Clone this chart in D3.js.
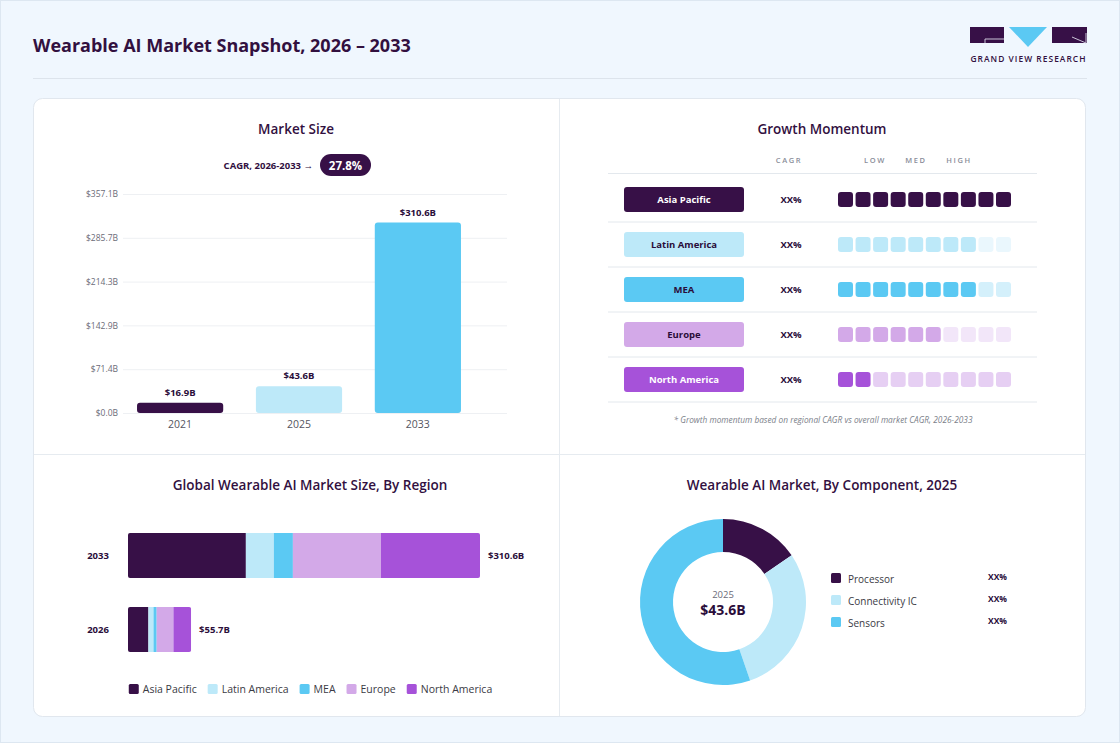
<!DOCTYPE html>
<html>
<head>
<meta charset="utf-8">
<script src="https://cdn.jsdelivr.net/npm/d3@7"></script>
<style>
  html, body { margin: 0; padding: 0; background: #f0f7fe; }
  svg { display: block; font-family: "Open Sans", "Noto Sans", sans-serif; }
</style>
</head>
<body>
<div id="chart"></div>
<script>
// ---- data ----
const sizeYears = ["2021", "2025", "2033"];
const sizeValues = [16.9, 43.6, 310.6];
const sizeColors = ["#371047", "#bde9f9", "#5bc9f3"];
const sizeTicks = [0, 71.4, 142.9, 214.3, 285.7, 357.1];
const cagrLabel = "27.8%";

const regions = ["Asia Pacific", "Latin America", "MEA", "Europe", "North America"];
const regionColors = ["#371047", "#bde9f9", "#5bc9f3", "#d3a9e8", "#a652d9"];
const regionLight = ["#371047", "#eaf7fd", "#d4f0fb", "#f2e6f9", "#e6cff3"];
const regionText = ["#ffffff", "#2a0d3a", "#2a0d3a", "#2a0d3a", "#ffffff"];
const momentumLevels = [10, 8, 8, 6, 2];
const regionCagr = ["XX%", "XX%", "XX%", "XX%", "XX%"];

const stackYears = ["2033", "2026"];
const stack2033 = [104.0, 24.7, 16.8, 77.7, 87.4];
const stack2026 = [18.0, 4.5, 2.8, 14.8, 15.6];
const stackTotals = ["$310.6B", "$55.7B"];

const components = ["Processor", "Connectivity IC", "Sensors"];
const componentShare = [15.5, 29.2, 55.3];
const componentColors = ["#371047", "#bde9f9", "#5bc9f3"];
const componentLabels = ["XX%", "XX%", "XX%"];

const W = 1120, H = 743;
const dark = "#32103f";

const svg = d3.select("#chart").append("svg")
    .attr("width", W)
    .attr("height", H)
    .attr("viewBox", `0 0 ${W} ${H}`);

// page frame
svg.append("rect")
    .attr("x", 0.5).attr("y", 0.5)
    .attr("width", W - 1).attr("height", H - 1)
    .attr("fill", "#f0f7fe")
    .attr("stroke", "#dde7f1");

// ---- header ----
svg.append("text")
    .attr("x", 33).attr("y", 52)
    .attr("font-size", 18)
    .attr("font-weight", 700)
    .attr("fill", dark)
    .text("Wearable AI Market Snapshot, 2026 – 2033");

svg.append("line")
    .attr("x1", 33).attr("x2", 1087)
    .attr("y1", 78.5).attr("y2", 78.5)
    .attr("stroke", "#dde4ec");

// logo
const logo = svg.append("g");
logo.append("rect").attr("x", 970).attr("y", 27).attr("width", 34).attr("height", 16).attr("fill", "#371047");
logo.append("path").attr("d", "M985,43 V39 H1004").attr("fill", "none").attr("stroke", "#c9c2d6").attr("stroke-width", 1);
logo.append("path").attr("d", "M1009,27 H1047 L1028,47 Z").attr("fill", "#5bc9f3");
logo.append("rect").attr("x", 1052).attr("y", 27).attr("width", 35).attr("height", 16).attr("fill", "#371047");
logo.append("path").attr("d", "M1072,37 L1086,43 M1086,33 V43").attr("fill", "none").attr("stroke", "#c9c2d6").attr("stroke-width", 1);
logo.append("text")
    .attr("x", 1028.5).attr("y", 62)
    .attr("text-anchor", "middle")
    .attr("font-size", 8.4)
    .attr("font-weight", 600)
    .attr("letter-spacing", 1.05)
    .attr("fill", dark)
    .text("GRAND VIEW RESEARCH");

// ---- card ----
svg.append("rect")
    .attr("x", 33.5).attr("y", 98.5)
    .attr("width", 1052).attr("height", 618)
    .attr("rx", 9)
    .attr("fill", "#ffffff")
    .attr("stroke", "#e1e7ee");
svg.append("line").attr("x1", 559.5).attr("x2", 559.5).attr("y1", 99).attr("y2", 716).attr("stroke", "#e6ebf0");
svg.append("line").attr("x1", 34).attr("x2", 1085).attr("y1", 454.5).attr("y2", 454.5).attr("stroke", "#e6ebf0");

function panelTitle(x, y, label) {
    svg.append("text")
        .attr("x", x).attr("y", y)
        .attr("text-anchor", "middle")
        .attr("font-size", 13.5)
        .attr("font-weight", 600)
        .attr("fill", dark)
        .text(label);
}

// ---- market size ----
panelTitle(296, 134, "Market Size");

svg.append("text")
    .attr("x", 313).attr("y", 169)
    .attr("text-anchor", "end")
    .attr("font-size", 9.5)
    .attr("font-weight", 700)
    .attr("fill", dark)
    .text("CAGR, 2026-2033 →");
svg.append("rect")
    .attr("x", 320).attr("y", 154)
    .attr("width", 51).attr("height", 22)
    .attr("rx", 11)
    .attr("fill", "#371047");
svg.append("text")
    .attr("x", 345.5).attr("y", 169.5)
    .attr("text-anchor", "middle")
    .attr("font-size", 11.5)
    .attr("font-weight", 700)
    .attr("fill", "#ffffff")
    .text(cagrLabel);

const xSize = d3.scaleBand()
    .domain(sizeYears)
    .range([123, 475])
    .paddingInner(0.275)
    .paddingOuter(0.118);
const ySize = d3.scaleLinear()
    .domain([0, sizeTicks[sizeTicks.length - 1]])
    .range([413, 194]);

const sizeAxis = svg.append("g")
    .attr("transform", "translate(123,0)")
    .call(d3.axisLeft(ySize)
        .tickValues(sizeTicks)
        .tickSize(-384)
        .tickPadding(5)
        .tickFormat(d => `$${d.toFixed(1)}B`));
sizeAxis.select(".domain").remove();
sizeAxis.selectAll(".tick line").attr("stroke", "#eef0f3");
sizeAxis.selectAll(".tick text")
    .attr("font-family", "Open Sans, sans-serif")
    .attr("font-size", 8.5)
    .attr("fill", "#6b6b78");

svg.append("g").selectAll("rect")
    .data(sizeValues)
    .join("rect")
    .attr("x", (d, i) => xSize(sizeYears[i]))
    .attr("y", d => ySize(d))
    .attr("width", xSize.bandwidth())
    .attr("height", d => ySize(0) - ySize(d))
    .attr("rx", 3)
    .attr("fill", (d, i) => sizeColors[i]);

svg.append("g").selectAll("text")
    .data(sizeValues)
    .join("text")
    .attr("x", (d, i) => xSize(sizeYears[i]) + xSize.bandwidth() / 2)
    .attr("y", d => ySize(d) - 7)
    .attr("text-anchor", "middle")
    .attr("font-size", 9.5)
    .attr("font-weight", 700)
    .attr("fill", "#2a0d3a")
    .text(d => `$${d.toFixed(1)}B`);

svg.append("g").selectAll("text")
    .data(sizeYears)
    .join("text")
    .attr("x", d => xSize(d) + xSize.bandwidth() / 2)
    .attr("y", 428)
    .attr("text-anchor", "middle")
    .attr("font-size", 10.5)
    .attr("fill", "#555560")
    .text(d => d);

// ---- growth momentum ----
panelTitle(822, 134, "Growth Momentum");

const headers = [["CAGR", 789], ["LOW", 875], ["MED", 916], ["HIGH", 959]];
svg.append("g").selectAll("text")
    .data(headers)
    .join("text")
    .attr("x", d => d[1]).attr("y", 163)
    .attr("text-anchor", "middle")
    .attr("font-size", 7.5)
    .attr("font-weight", 600)
    .attr("letter-spacing", 1.6)
    .attr("fill", "#8a8d99")
    .text(d => d[0]);

svg.append("line")
    .attr("x1", 608).attr("x2", 1037)
    .attr("y1", 173.5).attr("y2", 173.5)
    .attr("stroke", "#e3e8ed");

const yRow = d3.scaleBand()
    .domain(regions)
    .range([177, 402]);
const xSq = d3.scaleBand()
    .domain(d3.range(10))
    .range([838, 1011])
    .paddingInner(0.146);

const rows = svg.append("g").selectAll("g")
    .data(regions)
    .join("g")
    .attr("transform", d => `translate(0,${yRow(d) + yRow.bandwidth() / 2})`);

rows.append("line")
    .attr("x1", 608).attr("x2", 1037)
    .attr("y1", 22.5).attr("y2", 22.5)
    .attr("stroke", "#e3e8ed");

rows.append("rect")
    .attr("x", 624).attr("y", -12.5)
    .attr("width", 120).attr("height", 25)
    .attr("rx", 3)
    .attr("fill", (d, i) => regionColors[i]);

rows.append("text")
    .attr("x", 684).attr("y", 3.5)
    .attr("text-anchor", "middle")
    .attr("font-size", 9.5)
    .attr("font-weight", 700)
    .attr("fill", (d, i) => regionText[i])
    .text(d => d);

rows.append("text")
    .attr("x", 791).attr("y", 3.5)
    .attr("text-anchor", "middle")
    .attr("font-size", 9.5)
    .attr("font-weight", 700)
    .attr("fill", "#2a0d3a")
    .text((d, i) => regionCagr[i]);

rows.each(function (d, i) {
    d3.select(this).selectAll("rect.sq")
        .data(d3.range(10))
        .join("rect")
        .attr("class", "sq")
        .attr("x", k => xSq(k))
        .attr("y", -7.5)
        .attr("width", xSq.bandwidth())
        .attr("height", 15)
        .attr("rx", 3)
        .attr("fill", k => k < momentumLevels[i] ? regionColors[i] : regionLight[i]);
});

svg.append("text")
    .attr("x", 823).attr("y", 423)
    .attr("text-anchor", "middle")
    .attr("font-size", 8.3)
    .attr("font-style", "italic")
    .attr("fill", "#7c7f8a")
    .text("* Growth momentum based on regional CAGR vs overall market CAGR, 2026-2033");

// ---- by region ----
panelTitle(310, 490, "Global Wearable AI Market Size, By Region");

const stackRows = [stack2033, stack2026];
const xStack = d3.scaleLinear()
    .domain([0, d3.sum(stack2033)])
    .range([128, 480]);
const yStack = d3.scaleBand()
    .domain(stackYears)
    .range([533, 652])
    .paddingInner(0.392);

const stackG = svg.append("g").selectAll("g")
    .data(stackYears)
    .join("g")
    .attr("transform", d => `translate(0,${yStack(d)})`);

stackG.each(function (yr, r) {
    const vals = stackRows[r];
    const starts = d3.cumsum([0, ...vals]);
    const g = d3.select(this);
    const clipId = `clip-${yr}`;
    g.append("clipPath").attr("id", clipId)
        .append("rect")
        .attr("x", xStack(0)).attr("y", 0)
        .attr("width", xStack(d3.sum(vals)) - xStack(0))
        .attr("height", yStack.bandwidth())
        .attr("rx", 2);
    g.append("g").attr("clip-path", `url(#${clipId})`)
        .selectAll("rect")
        .data(vals)
        .join("rect")
        .attr("x", (v, i) => xStack(starts[i]))
        .attr("y", 0)
        .attr("width", (v, i) => xStack(starts[i] + v) - xStack(starts[i]))
        .attr("height", yStack.bandwidth())
        .attr("fill", (v, i) => regionColors[i]);
    g.append("text")
        .attr("x", 98).attr("y", yStack.bandwidth() / 2 + 3.5)
        .attr("text-anchor", "middle")
        .attr("font-size", 9.5)
        .attr("font-weight", 700)
        .attr("fill", "#2a0d3a")
        .text(yr);
    g.append("text")
        .attr("x", xStack(d3.sum(vals)) + 8).attr("y", yStack.bandwidth() / 2 + 3.5)
        .attr("font-size", 9.5)
        .attr("font-weight", 700)
        .attr("fill", "#2a0d3a")
        .text(stackTotals[r]);
});

// legend
const legend = svg.append("g");
let lx = 0;
const gap = 11;
const items = legend.selectAll("g")
    .data(regions)
    .join("g");
items.append("rect")
    .attr("x", 0).attr("y", -5)
    .attr("width", 10).attr("height", 10)
    .attr("rx", 1.5)
    .attr("fill", (d, i) => regionColors[i]);
items.append("text")
    .attr("x", 14).attr("y", 4)
    .attr("font-size", 10.5)
    .attr("fill", "#3a3a44")
    .text(d => d);
items.each(function () {
    const w = d3.select(this).select("text").node().getComputedTextLength();
    d3.select(this).attr("transform", `translate(${lx},0)`);
    lx += 14 + w + gap;
});
legend.attr("transform", `translate(${310.5 - (lx - gap) / 2},689)`);

// ---- by component ----
panelTitle(822, 490, "Wearable AI Market, By Component, 2025");

const pie = d3.pie().sort(null).value(d => d);
const arc = d3.arc().innerRadius(50).outerRadius(83);
const donut = svg.append("g").attr("transform", "translate(723,602)");
donut.selectAll("path")
    .data(pie(componentShare))
    .join("path")
    .attr("d", arc)
    .attr("fill", (d, i) => componentColors[i]);
donut.append("text")
    .attr("y", -4)
    .attr("text-anchor", "middle")
    .attr("font-size", 9.5)
    .attr("fill", "#6b6b78")
    .text("2025");
donut.append("text")
    .attr("y", 13)
    .attr("text-anchor", "middle")
    .attr("font-size", 14)
    .attr("font-weight", 700)
    .attr("fill", "#2a0d3a")
    .text("$43.6B");

const compLegend = svg.append("g").selectAll("g")
    .data(components)
    .join("g")
    .attr("transform", (d, i) => `translate(831,${579 + i * 22})`);
compLegend.append("rect")
    .attr("x", 0).attr("y", -6)
    .attr("width", 10).attr("height", 10)
    .attr("rx", 1.5)
    .attr("fill", (d, i) => componentColors[i]);
compLegend.append("text")
    .attr("x", 17).attr("y", 4)
    .attr("font-size", 10)
    .attr("fill", "#3a3a44")
    .text(d => d);
compLegend.append("text")
    .attr("x", 157).attr("y", 1)
    .attr("font-size", 8.5)
    .attr("font-weight", 700)
    .attr("fill", "#2a0d3a")
    .text((d, i) => componentLabels[i]);
</script>
</body>
</html>
